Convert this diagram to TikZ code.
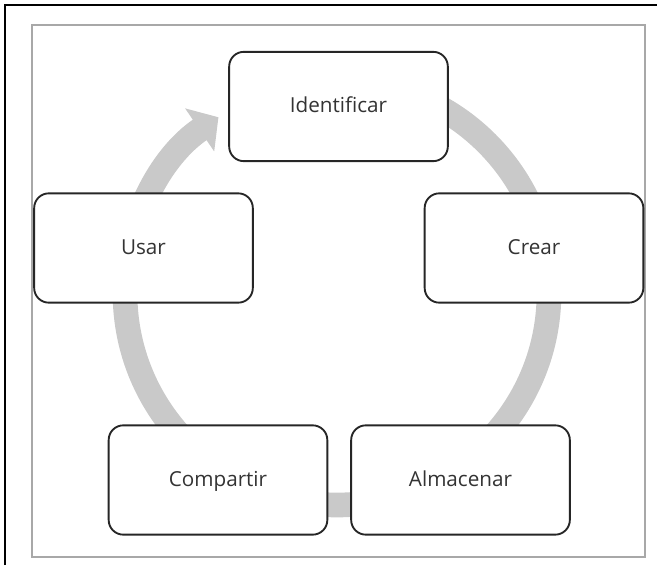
\documentclass[tikz,border=0pt]{standalone}
\usepackage{fontspec}
\setmainfont{Open Sans}
\usetikzlibrary{arrows.meta}
\definecolor{ringgray}{HTML}{C9C9C9}
\definecolor{framegray}{HTML}{A8A8A8}
\definecolor{textgray}{HTML}{333333}
\begin{document}
\begin{tikzpicture}[x=0.75pt, y=0.75pt,
                stage/.style={draw=black!85, line width=1.4pt, fill=white,
                        rounded corners=11pt, minimum width=164pt,
                        minimum height=82pt, text=textgray,
                        text height=2.1ex, text depth=0.4ex,
                        font=\fontsize{15.5}{18}\selectfont},
                cycle/.style={draw=ringgray, line width=18.5pt,
                        -{Triangle[length=17pt, width=38pt]}}]
            \useasboundingbox (0,0) rectangle (657,565);
            % frame
            \draw[line width=1.6pt] (5,0) -- (5,560) -- (657,560);
            \draw[framegray, line width=1.8pt] (32,8) rectangle (645,540);
            % ring behind the boxes
            \draw[cycle] (337,272) ++(90:159pt) arc (90:-236:159pt);
            \node[stage] (ident) at (338.5,458.5) {Identificar};
            \node[stage] (crear) at (534,317) {Crear};
            \node[stage] (usar) at (143.5,317) {Usar};
            \node[stage] (compartir) at (218,85) {Compartir};
            \node[stage] (almacenar) at (460.5,85) {Almacenar};
        \end{tikzpicture}
\end{document}
